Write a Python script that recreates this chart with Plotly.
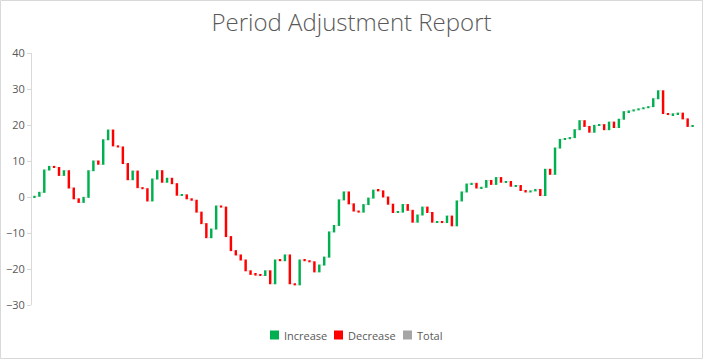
import plotly.graph_objects as go

# Period index labels (1..135)
periods = [f"P{i}" for i in range(1, 136)]

# Period adjustments (change per period)
adjustments = [
    0.2, 1.1, 6.2, 1.0, -0.3, -2.2, 1.3, -4.8, -3.0, -1.0,
    1.4, 7.4, 2.7, -0.9, 6.8, 2.7, -4.4, -0.3, -4.6, -4.5,
    2.4, -4.6, -0.3, -3.4, 6.1, 2.3, -3.2, 1.1, -1.5, -3.2,
    0.1, -1.1, -0.4, -3.3, -3.2, -3.9, 2.4, 6.4, -0.3, -8.2,
    -3.9, -1.2, -1.4, -3.0, -1.0, -0.2, -0.1, 1.3, -3.6, 6.6,
    -0.2, 1.6, -8.0, -0.3, 6.9, -0.2, -0.3, -2.8, 1.9, 2.2,
    7.0, 1.8, 7.1, 2.2, -3.3, -2.0, -0.3, 2.1, 1.8, 2.2,
    -0.2, -1.7, -2.0, -2.3, 0.1, 2.1, -1.6, -3.3, 2.0, 2.2,
    -1.5, -2.7, 0.1, -0.2, 1.8, -2.7, 6.9, 2.5, 2.2, 0.2,
    -1.3, 0.2, 1.9, -1.1, 1.9, -1.3, 0.2, -1.3, 0.2, -1.4,
    -0.4, 0.3, 0.4, -1.7, 7.3, -1.4, 7.3, 2.4, 0.2, 0.3,
    2.2, 2.5, -1.6, -1.6, 1.9, 0.2, -1.4, 2.1, -1.5, 2.3,
    2.1, 0.2, 0.3, 0.3, 0.3, 0.3, 2.2, 2.2, -6.3, -0.3,
    0.2, 0.2, -1.6, -2.1, 0.1,
]
measures = ["relative"] * len(adjustments)

legend_names = ["Increase", "Decrease", "Total"]
legend_colors = ["#00B050", "#FF0000", "#A5A5A5"]
y_ticks = [-30, -20, -10, 0, 10, 20, 30, 40]

fig = go.Figure()
fig.add_trace(go.Waterfall(
    x=periods, y=adjustments, measure=measures,
    increasing=dict(marker=dict(color=legend_colors[0])),
    decreasing=dict(marker=dict(color=legend_colors[1])),
    totals=dict(marker=dict(color=legend_colors[2])),
    connector=dict(mode="between", line=dict(color="#D9D9D9", width=1)),
    width=0.5, showlegend=False, hoverinfo="x+y",
))

L, T, B, R = 32, 53, 54, 8
W, H = 703, 359
pw, ph = W - L - R, H - T - B


def px_x(px):
    return (px - L) / pw


def px_y(py):
    return (H - B - py) / ph


# manual legend (squares + labels)
leg_sq_x = [270, 334, 403]
leg_cy = 335
shapes = [dict(type="rect", xref="paper", yref="paper",
               x0=px_x(0.5), x1=px_x(W - 0.5), y0=px_y(H - 0.5), y1=px_y(0.5),
               line=dict(color="#D9D9D9", width=1), layer="below")]
annotations = []
for name, col, sx in zip(legend_names, legend_colors, leg_sq_x):
    shapes.append(dict(type="rect", xref="paper", yref="paper",
                       x0=px_x(sx), x1=px_x(sx + 9),
                       y0=px_y(leg_cy + 4.5), y1=px_y(leg_cy - 4.5),
                       line=dict(width=0), fillcolor=col))
    annotations.append(dict(text=name, xref="paper", yref="paper",
                            x=px_x(sx + 12), y=px_y(leg_cy), xanchor="left",
                            yanchor="middle", showarrow=False,
                            font=dict(family="Open Sans", size=11, color="#595959")))

fig.update_layout(
    width=W, height=H, template="none",
    margin=dict(l=L, r=R, t=T, b=B, pad=0),
    paper_bgcolor="white", plot_bgcolor="white",
    showlegend=False,
    title=dict(text="Period Adjustment Report", x=0.5, xanchor="center",
               y=1 - 23 / H, yanchor="middle",
               font=dict(family="Open Sans", size=24, color="#595959", weight=300)),
    font=dict(family="Open Sans", size=11, color="#595959"),
    xaxis=dict(showticklabels=False, showgrid=False, zeroline=False,
               showline=False, ticks="", automargin=False),
    yaxis=dict(range=[-30, 40], tickvals=y_ticks, showgrid=False, zeroline=False,
               showline=True, linecolor="#D9D9D9", linewidth=1,
               ticks="outside", ticklen=4, tickcolor="#D9D9D9", automargin=False,
               tickfont=dict(size=11, color="#595959")),
    shapes=shapes,
    annotations=annotations,
)

fig.write_html("out.html", config={"displayModeBar": False},
               post_script="document.body.style.margin='0';")
